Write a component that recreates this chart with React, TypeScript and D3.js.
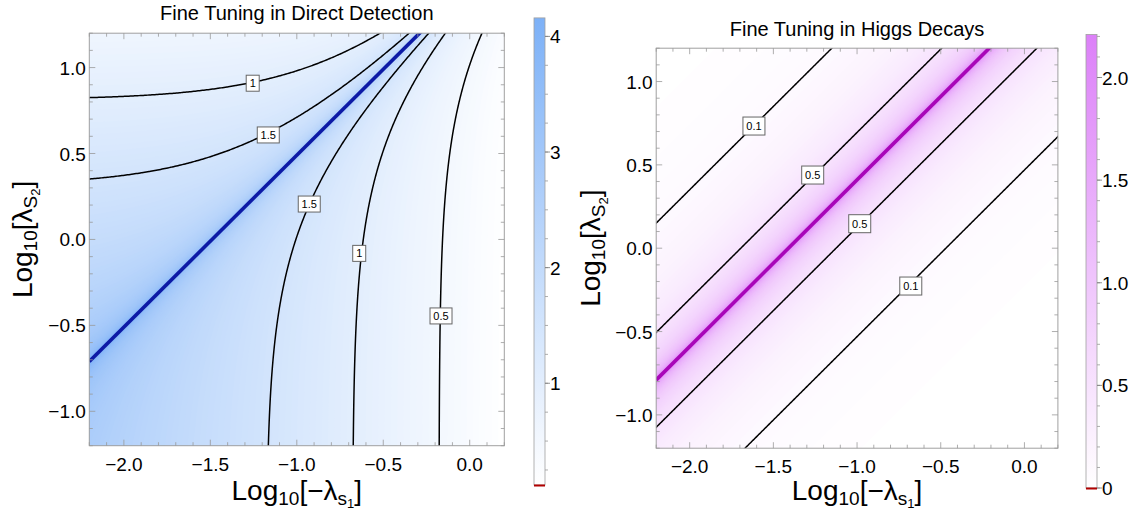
import React, { useMemo } from "react";
import * as d3 from "d3";

const FONT = "'Liberation Sans', Arial, Helvetica, sans-serif";

// ---------------- data ----------------
const xDomain = [-2.2, 0.2];
const yDomain = [-1.2, 1.2];
const xTickValues = [-2.0, -1.5, -1.0, -0.5, 0.0];
const yTickValues = [-1.0, -0.5, 0.0, 0.5, 1.0];

// Panel 1: fine tuning in direct detection (fitted from the picture)
const ddTitle = "Fine Tuning in Direct Detection";
const ddScaleConst = 2.1;
const ddCancelLog = 1.49;
const ddLevels = [0.5, 1, 1.5];
const ddLabelText = ["1", "1.5", "1.5", "1", "0.5"];
const ddLabelX = [-1.255, -1.165, -0.928, -0.639, -0.166];
const ddLabelY = [0.909, 0.608, 0.206, -0.081, -0.445];
const ddColorDomain = [0.12, 4.16];
const ddColorTicks = [1, 2, 3, 4];
const ddColorTickLabels = ["1", "2", "3", "4"];

// Panel 2: fine tuning in Higgs decays (fitted from the picture)
const hdTitle = "Fine Tuning in Higgs Decays";
const hdCancelLog = 1.41;
const hdLevels = [0.1, 0.5];
const hdLabelText = ["0.1", "0.5", "0.5", "0.1"];
const hdLabelX = [-1.616, -1.265, -0.984, -0.679];
const hdLabelY = [0.733, 0.439, 0.147, -0.227];
const hdColorDomain = [0, 2.21];
const hdColorTicks = [0, 0.5, 1.0, 1.5, 2.0];
const hdColorTickLabels = ["0", "0.5", "1.0", "1.5", "2.0"];

const ddField = (x: number, y: number) => {
  const a = Math.pow(10, x);
  const b = Math.pow(10, y);
  const d = Math.abs(a - b * Math.pow(10, -ddCancelLog));
  return Math.log10(ddScaleConst / Math.max(d, 1e-12));
};
const hdField = (x: number, y: number) => {
  const t = Math.pow(10, y - x - hdCancelLog);
  return Math.log10((1 + t) / Math.max(Math.abs(1 - t), 1e-12));
};

type Box = { x0: number; x1: number; y0: number; y1: number };
type CB = { x: number; w: number; y0: number; y1: number };

function AxisTitleX({ x, y }: { x: number; y: number }) {
  return (
    <text x={x} y={y} fontSize={28} textAnchor="middle" fontFamily={FONT}>
      Log<tspan fontSize={19} baselineShift="-5">10</tspan>[−λ
      <tspan fontSize={19} baselineShift="-5">
        s<tspan fontSize={13} baselineShift="-3">1</tspan>
      </tspan>]
    </text>
  );
}
function AxisTitleY({ x, y }: { x: number; y: number }) {
  return (
    <text
      transform={`translate(${x},${y}) rotate(-90)`}
      fontSize={28}
      textAnchor="middle"
      fontFamily={FONT}
    >
      Log<tspan fontSize={19} baselineShift="-5">10</tspan>[λ
      <tspan fontSize={19} baselineShift="-5">
        S<tspan fontSize={13} baselineShift="-3">2</tspan>
      </tspan>]
    </text>
  );
}

function Panel(props: {
  id: string;
  plot: Box;
  cbar: CB;
  title: string;
  titleBaseline: number;
  field: (x: number, y: number) => number;
  levels: number[];
  labelText: string[];
  labelX: number[];
  labelY: number[];
  colorDomain: number[];
  colorTicks: number[];
  colorTickLabels: string[];
  colorMinor: number;
  colorHi: string;
  lineOffset: number;
  lineColor: string;
  yLabelX: number;
  labelH: number;
}) {
  const { id, plot, cbar, field, colorDomain } = props;
  const xs = d3.scaleLinear().domain(xDomain).range([plot.x0, plot.x1]);
  const ys = d3.scaleLinear().domain(yDomain).range([plot.y1, plot.y0]);
  const color = d3
    .scaleLinear<string>()
    .domain(colorDomain)
    .range(["#ffffff", props.colorHi])
    .interpolate(d3.interpolateRgb)
    .clamp(true);

  const { bands, lines } = useMemo(() => {
    const n = 300;
    const pad = 0.05;
    const gx0 = xDomain[0] - pad, gx1 = xDomain[1] + pad;
    const gy0 = yDomain[0] - pad, gy1 = yDomain[1] + pad;
    const values: number[] = new Array(n * n);
    for (let j = 0; j < n; j++) {
      const y = gy1 - ((j + 0.5) / n) * (gy1 - gy0);
      for (let i = 0; i < n; i++) {
        const x = gx0 + ((i + 0.5) / n) * (gx1 - gx0);
        values[j * n + i] = Math.min(field(x, y), colorDomain[1] + 0.02);
      }
    }
    const proj = d3.geoTransform({
      point: function (px: number, py: number) {
        (this as any).stream.point(
          xs(gx0 + (px / n) * (gx1 - gx0)),
          ys(gy1 - (py / n) * (gy1 - gy0))
        );
      },
    });
    const path = d3.geoPath(proj as any);
    const step = (colorDomain[1] - colorDomain[0]) / 110;
    const th = d3.range(colorDomain[0] + step, colorDomain[1], step);
    const gen = d3.contours().size([n, n]);
    const bands = gen.thresholds(th)(values).map((c) => ({
      d: path(c as any) || "",
      fill: color(c.value + step / 2),
    }));
    const lines = d3
      .contours()
      .size([n, n])
      .thresholds(props.levels)(values)
      .map((c) => path(c as any) || "");
    return { bands, lines };
  }, []);

  const minorX = d3.range(-22, 3).map((v) => v / 10);
  const minorY = d3.range(-12, 13).map((v) => v / 10);
  const isMajor = (v: number) => Math.abs(v * 2 - Math.round(v * 2)) < 1e-9;
  const fmt = d3.format(".1f");
  const tickCol = "#999";

  const cs = d3.scaleLinear().domain(colorDomain).range([cbar.y1, cbar.y0]);
  const gradStops = d3.range(0, 11).map((k) => k / 10);
  const cbMinor = d3
    .range(0, 50)
    .map((k) => k * props.colorMinor)
    .filter((v) => v >= colorDomain[0] - 1e-9 && v <= colorDomain[1] + 1e-9);

  const lx0 = xDomain[0], lx1 = xDomain[1];

  return (
    <g>
      <defs>
        <clipPath id={`clip-${id}`}>
          <rect x={plot.x0} y={plot.y0} width={plot.x1 - plot.x0} height={plot.y1 - plot.y0} />
        </clipPath>
        <linearGradient id={`grad-${id}`} x1="0" y1="1" x2="0" y2="0">
          {gradStops.map((s) => (
            <stop key={s} offset={s} stopColor={color(colorDomain[0] + s * (colorDomain[1] - colorDomain[0]))} />
          ))}
        </linearGradient>
      </defs>
      <g clipPath={`url(#clip-${id})`}>
        <rect x={plot.x0} y={plot.y0} width={plot.x1 - plot.x0} height={plot.y1 - plot.y0} fill={color(colorDomain[0])} />
        {bands.map((b, i) => (
          <path key={i} d={b.d} fill={b.fill} stroke="none" />
        ))}
        <line
          x1={xs(lx0)}
          y1={ys(lx0 + props.lineOffset)}
          x2={xs(lx1)}
          y2={ys(lx1 + props.lineOffset)}
          stroke={props.lineColor}
          strokeWidth={3.6}
        />
        {lines.map((d, i) => (
          <path key={i} d={d} fill="none" stroke="#000" strokeWidth={1.5} />
        ))}
      </g>
      {props.labelText.map((t, i) => {
        const w = t.length === 1 ? 13 : 22;
        const h = props.labelH;
        const cx = xs(props.labelX[i]);
        const cy = ys(props.labelY[i]);
        return (
          <g key={i}>
            <rect x={cx - w / 2} y={cy - h / 2} width={w} height={h} fill="#fff" stroke="#666" strokeWidth={1} />
            <text x={cx} y={cy + 4} fontSize={11} textAnchor="middle" fontFamily={FONT}>
              {t}
            </text>
          </g>
        );
      })}
      <rect x={plot.x0} y={plot.y0} width={plot.x1 - plot.x0} height={plot.y1 - plot.y0} fill="none" stroke="#a0a0a0" strokeWidth={1} />
      {minorX.map((v) => {
        const L = isMajor(v) ? 6 : 3.5;
        const X = xs(v);
        return (
          <g key={`x${v}`} stroke={tickCol} strokeWidth={0.8}>
            <line x1={X} x2={X} y1={plot.y1} y2={plot.y1 - L} />
            <line x1={X} x2={X} y1={plot.y0} y2={plot.y0 + L} />
          </g>
        );
      })}
      {minorY.map((v) => {
        const L = isMajor(v) ? 6 : 3.5;
        const Y = ys(v);
        return (
          <g key={`y${v}`} stroke={tickCol} strokeWidth={0.8}>
            <line x1={plot.x0} x2={plot.x0 + L} y1={Y} y2={Y} />
            <line x1={plot.x1} x2={plot.x1 - L} y1={Y} y2={Y} />
          </g>
        );
      })}
      {xTickValues.map((v) => (
        <text key={`xl${v}`} x={xs(v)} y={plot.y1 + 25} fontSize={19} textAnchor="middle" fontFamily={FONT}>
          {fmt(v)}
        </text>
      ))}
      {yTickValues.map((v) => (
        <text key={`yl${v}`} x={plot.x0 - 3.5} y={ys(v) + 7} fontSize={19} textAnchor="end" fontFamily={FONT}>
          {fmt(v)}
        </text>
      ))}
      <text x={(plot.x0 + plot.x1) / 2} y={props.titleBaseline} fontSize={20} textAnchor="middle" fontFamily={FONT}>
        {props.title}
      </text>
      <AxisTitleX x={(plot.x0 + plot.x1) / 2} y={500} />
      <AxisTitleY x={props.yLabelX} y={(plot.y0 + plot.y1) / 2} />
      {/* colour bar */}
      <rect x={cbar.x} y={cbar.y0} width={cbar.w} height={cbar.y1 - cbar.y0} fill={`url(#grad-${id})`} stroke="#a0a0a0" strokeWidth={0.8} />
      <rect x={cbar.x} y={cbar.y1 - 0.5} width={cbar.w} height={2} fill="#b00000" />
      {cbMinor.map((v) => (
        <line key={`cm${v}`} x1={cbar.x + cbar.w} x2={cbar.x + cbar.w + 3} y1={cs(v)} y2={cs(v)} stroke={tickCol} strokeWidth={0.8} />
      ))}
      {props.colorTicks.map((v, i) => (
        <g key={`ct${v}`}>
          <line x1={cbar.x + cbar.w} x2={cbar.x + cbar.w + 5} y1={cs(v)} y2={cs(v)} stroke="#777" strokeWidth={0.8} />
          <text x={cbar.x + cbar.w + 5} y={cs(v) + 7} fontSize={19} fontFamily={FONT}>
            {props.colorTickLabels[i]}
          </text>
        </g>
      ))}
    </g>
  );
}

export default function App() {
  return (
    <svg
      width={1138}
      height={511}
      viewBox="0 0 1138 511"
      style={{ position: "absolute", left: 0, top: 0, background: "#fff" }}
    >
      <rect x={0} y={0} width={1138} height={511} fill="#fff" />
      <Panel
        id="dd"
        plot={{ x0: 89.3, x1: 504.3, y0: 33.2, y1: 445.7 }}
        cbar={{ x: 534, w: 11, y0: 17.9, y1: 485 }}
        title={ddTitle}
        titleBaseline={19.5}
        field={ddField}
        levels={ddLevels}
        labelText={ddLabelText}
        labelX={ddLabelX}
        labelY={ddLabelY}
        colorDomain={ddColorDomain}
        colorTicks={ddColorTicks}
        colorTickLabels={ddColorTickLabels}
        colorMinor={0.25}
        colorHi="#7db1f7"
        lineOffset={ddCancelLog}
        lineColor="#0d1aa6"
        yLabelX={32}
        labelH={16}
      />
      <Panel
        id="hd"
        plot={{ x0: 656.2, x1: 1057.9, y0: 48.2, y1: 448.2 }}
        cbar={{ x: 1086, w: 11, y0: 34.4, y1: 488 }}
        title={hdTitle}
        titleBaseline={36}
        field={hdField}
        levels={hdLevels}
        labelText={hdLabelText}
        labelX={hdLabelX}
        labelY={hdLabelY}
        colorDomain={hdColorDomain}
        colorTicks={hdColorTicks}
        colorTickLabels={hdColorTickLabels}
        colorMinor={0.1}
        colorHi="#dc80f8"
        lineOffset={hdCancelLog}
        lineColor="#a806b8"
        yLabelX={600}
        labelH={18}
      />
    </svg>
  );
}
